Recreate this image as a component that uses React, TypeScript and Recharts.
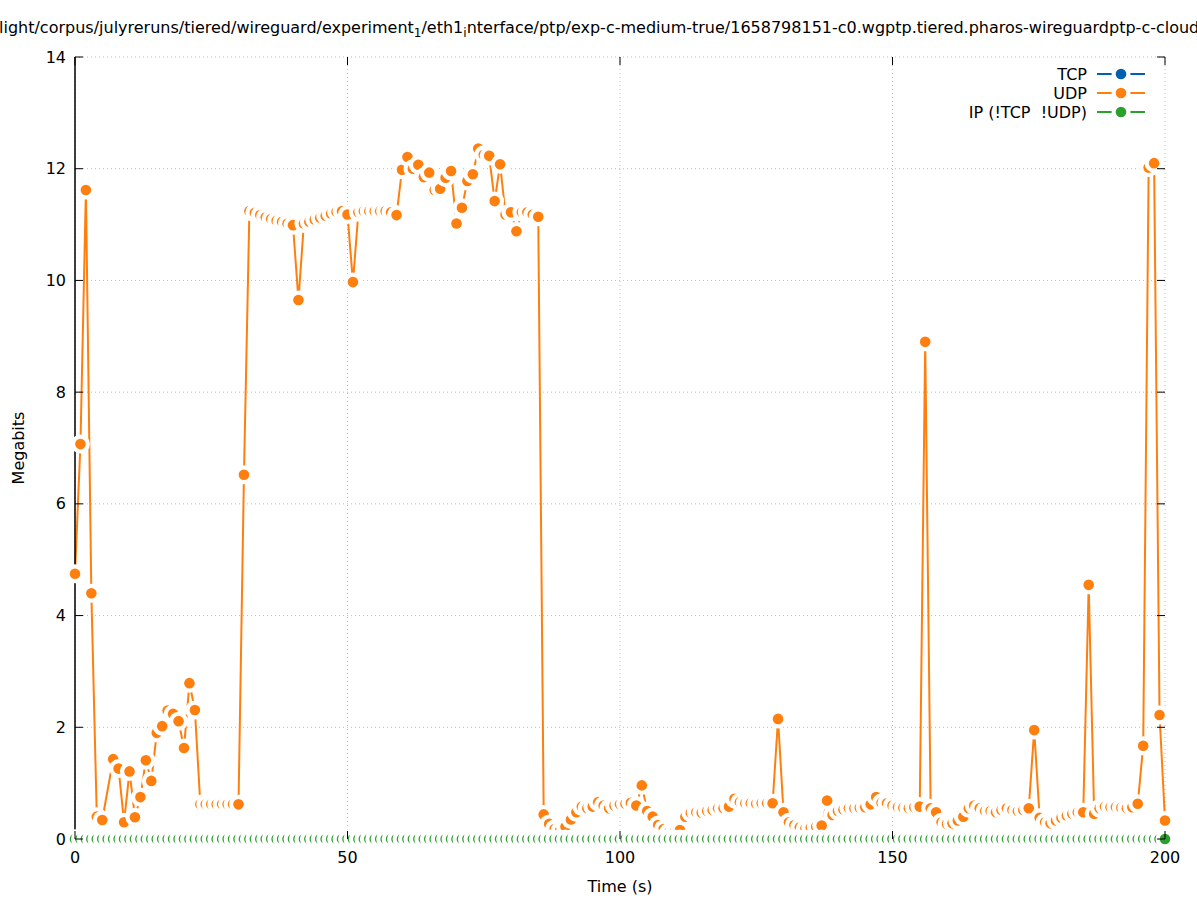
import { CartesianGrid, Line, LineChart, ReferenceLine, XAxis, YAxis } from "recharts";

// UDP throughput per second (Megabits); null where the capture has no sample
const udpMbits: (number | null)[] = [
  4.75, 7.07, 11.62, 4.4, 0.4, 0.34, null, 1.43, 1.26, 0.3,
  1.21, 0.39, 0.75, 1.41, 1.04, 1.9, 2.02, 2.3, 2.24, 2.11,
  1.63, 2.79, 2.31, 0.62, 0.62, 0.62, 0.62, 0.62, 0.62, 0.62,
  0.62, 6.52, 11.24, 11.21, 11.17, 11.13, 11.1, 11.07, 11.05, 11.02,
  10.99, 9.65, 11.02, 11.05, 11.09, 11.12, 11.16, 11.2, 11.23, 11.24,
  11.18, 9.97, 11.22, 11.24, 11.24, 11.24, 11.24, 11.24, 11.22, 11.17,
  11.98, 12.21, 12.0, 12.07, 11.85, 11.93, 11.62, 11.64, 11.84, 11.96,
  11.02, 11.3, 11.78, 11.9, 12.36, 12.25, 12.23, 11.42, 12.08, 11.18,
  11.22, 10.88, 11.22, 11.22, 11.18, 11.14, 0.44, 0.27, 0.18, 0.15,
  0.22, 0.35, 0.48, 0.58, 0.55, 0.58, 0.66, 0.6, 0.55, 0.6,
  0.62, 0.63, 0.65, 0.6, 0.96, 0.5, 0.4, 0.25, 0.18, 0.12,
  0.12, 0.16, 0.4, 0.47, 0.48, 0.47, 0.5, 0.52, 0.55, 0.55,
  0.58, 0.72, 0.66, 0.64, 0.64, 0.63, 0.64, 0.64, 0.64, 2.15,
  0.48, 0.3, 0.25, 0.21, 0.18, 0.2, 0.22, 0.24, 0.69, 0.43,
  0.5, 0.53, 0.55, 0.55, 0.56, 0.57, 0.62, 0.75, 0.65, 0.64,
  0.6, 0.57, 0.56, 0.55, 0.57, 0.58, 8.9, 0.55, 0.48, 0.3,
  0.27, 0.28, 0.33, 0.4, 0.55, 0.6, 0.55, 0.5, 0.5, 0.48,
  0.52, 0.55, 0.52, 0.5, 0.52, 0.55, 1.95, 0.38, 0.3, 0.28,
  0.33, 0.38, 0.42, 0.45, 0.48, 0.48, 4.55, 0.45, 0.55, 0.58,
  0.57, 0.57, 0.56, 0.55, 0.57, 0.63, 1.67, 12.02, 12.1, 2.22,
  0.33,
];

// TCP and other IP traffic stay at zero for the whole run
const tcpMbits: number[] = [
  0, 0, 0, 0, 0, 0, 0, 0, 0, 0, 0, 0, 0, 0, 0, 0, 0, 0, 0, 0,
  0, 0, 0, 0, 0, 0, 0, 0, 0, 0, 0, 0, 0, 0, 0, 0, 0, 0, 0, 0,
  0, 0, 0, 0, 0, 0, 0, 0, 0, 0, 0, 0, 0, 0, 0, 0, 0, 0, 0, 0,
  0, 0, 0, 0, 0, 0, 0, 0, 0, 0, 0, 0, 0, 0, 0, 0, 0, 0, 0, 0,
  0, 0, 0, 0, 0, 0, 0, 0, 0, 0, 0, 0, 0, 0, 0, 0, 0, 0, 0, 0,
  0, 0, 0, 0, 0, 0, 0, 0, 0, 0, 0, 0, 0, 0, 0, 0, 0, 0, 0, 0,
  0, 0, 0, 0, 0, 0, 0, 0, 0, 0, 0, 0, 0, 0, 0, 0, 0, 0, 0, 0,
  0, 0, 0, 0, 0, 0, 0, 0, 0, 0, 0, 0, 0, 0, 0, 0, 0, 0, 0, 0,
  0, 0, 0, 0, 0, 0, 0, 0, 0, 0, 0, 0, 0, 0, 0, 0, 0, 0, 0, 0,
  0, 0, 0, 0, 0, 0, 0, 0, 0, 0, 0, 0, 0, 0, 0, 0, 0, 0, 0, 0,
  0,
];

const ipOtherMbits: number[] = [
  0, 0, 0, 0, 0, 0, 0, 0, 0, 0, 0, 0, 0, 0, 0, 0, 0, 0, 0, 0,
  0, 0, 0, 0, 0, 0, 0, 0, 0, 0, 0, 0, 0, 0, 0, 0, 0, 0, 0, 0,
  0, 0, 0, 0, 0, 0, 0, 0, 0, 0, 0, 0, 0, 0, 0, 0, 0, 0, 0, 0,
  0, 0, 0, 0, 0, 0, 0, 0, 0, 0, 0, 0, 0, 0, 0, 0, 0, 0, 0, 0,
  0, 0, 0, 0, 0, 0, 0, 0, 0, 0, 0, 0, 0, 0, 0, 0, 0, 0, 0, 0,
  0, 0, 0, 0, 0, 0, 0, 0, 0, 0, 0, 0, 0, 0, 0, 0, 0, 0, 0, 0,
  0, 0, 0, 0, 0, 0, 0, 0, 0, 0, 0, 0, 0, 0, 0, 0, 0, 0, 0, 0,
  0, 0, 0, 0, 0, 0, 0, 0, 0, 0, 0, 0, 0, 0, 0, 0, 0, 0, 0, 0,
  0, 0, 0, 0, 0, 0, 0, 0, 0, 0, 0, 0, 0, 0, 0, 0, 0, 0, 0, 0,
  0, 0, 0, 0, 0, 0, 0, 0, 0, 0, 0, 0, 0, 0, 0, 0, 0, 0, 0, 0,
  0,
];

const xTicks = [0, 50, 100, 150, 200];
const yTicks = [0, 2, 4, 6, 8, 10, 12, 14];

const TCP_COLOR = "#0060ad";
const UDP_COLOR = "#ff7f0e";
const IP_COLOR = "#2ca02c";
const FONT = "'DejaVu Sans', sans-serif";

const W = 1197;
const H = 900;
const LEFT = 75;
const RIGHT = 1165;
const TOP = 57;
const BOTTOM = 839;

const rows = udpMbits.map((udp, i) => ({
  t: i,
  tcp: tcpMbits[i],
  udp,
  ip: ipOtherMbits[i],
}));

// gnuplot-style point: filled disc over a white halo that masks what is under it
const haloDot = (color: string) => (props: any) => {
  const { cx, cy, index, value } = props;
  if (value == null || cx == null || cy == null || Number.isNaN(cy)) {
    return <g key={`d-${index}`} />;
  }
  return (
    <g key={`d-${index}`}>
      <circle cx={cx} cy={cy} r={9.5} fill="#fff" />
      <circle cx={cx} cy={cy} r={5.3} fill={color} />
    </g>
  );
};

const YTick = (props: any) => {
  const y = props.payload.coordinate;
  return (
    <g>
      <line x1={LEFT} x2={LEFT + 8} y1={y} y2={y} stroke="#000" />
      <line x1={RIGHT} x2={RIGHT - 8} y1={y} y2={y} stroke="#000" />
      <text x={66} y={y} dy={5.5} textAnchor="end" fontSize={16} fontFamily={FONT} fill="#000">
        {props.payload.value}
      </text>
    </g>
  );
};

const XTick = (props: any) => {
  const x = props.payload.coordinate;
  return (
    <g>
      <line x1={x} x2={x} y1={BOTTOM} y2={BOTTOM - 8} stroke="#000" />
      <line x1={x} x2={x} y1={TOP} y2={TOP + 8} stroke="#000" />
      <text x={x} y={863} textAnchor="middle" fontSize={16} fontFamily={FONT} fill="#000">
        {props.payload.value}
      </text>
    </g>
  );
};

const legendItems = [
  { label: "TCP", color: TCP_COLOR },
  { label: "UDP", color: UDP_COLOR },
  { label: "IP (!TCP  !UDP)", color: IP_COLOR },
];

function Overlay() {
  return (
    <svg
      width={W}
      height={H}
      style={{ position: "absolute", left: 0, top: 0, pointerEvents: "none" }}
      fontFamily={FONT}
    >
      <text x={-1} y={33} fontSize={16} fill="#000" style={{ whiteSpace: "pre" }}>
        light/corpus/julyreruns/tiered/wireguard/experiment
        <tspan fontSize={12} dy={4}>1</tspan>
        <tspan dy={-4}>/eth1</tspan>
        <tspan fontSize={12} dy={4}>i</tspan>
        <tspan dy={-4}>nterface/ptp/exp-c-medium-true/1658798151-c0.wgptp.tiered.pharos-wireguardptp-c-cloudlab</tspan>
      </text>
      <text x={620} y={892} textAnchor="middle" fontSize={16} fill="#000">
        Time (s)
      </text>
      <text
        x={24}
        y={448}
        textAnchor="middle"
        fontSize={16}
        fill="#000"
        transform="rotate(-90 24 448)"
      >
        Megabits
      </text>
      {legendItems.map((item, i) => {
        const y = 74 + i * 19;
        return (
          <g key={item.label}>
            <text x={1087} y={y} dy={5.5} textAnchor="end" fontSize={16} fill="#000" style={{ whiteSpace: "pre" }}>
              {item.label}
            </text>
            <line x1={1097} x2={1145} y1={y} y2={y} stroke={item.color} strokeWidth={2} />
            <circle cx={1121} cy={y} r={9.5} fill="#fff" />
            <circle cx={1121} cy={y} r={5.3} fill={item.color} />
          </g>
        );
      })}
    </svg>
  );
}

export default function App() {
  return (
    <div style={{ position: "absolute", left: 0, top: 0, width: W, height: H, background: "#fff", fontFamily: FONT }}>
      <LineChart width={W} height={H} data={rows} margin={{ top: TOP, right: W - RIGHT, bottom: 21, left: 15 }}>
        <CartesianGrid stroke="#bbbbbb" strokeDasharray="1 3" />
        <XAxis
          dataKey="t"
          type="number"
          domain={[0, 200]}
          ticks={xTicks}
          height={40}
          axisLine={{ stroke: "#000" }}
          tickLine={false}
          tick={<XTick />}
        />
        <YAxis
          type="number"
          domain={[0, 14]}
          ticks={yTicks}
          width={60}
          axisLine={{ stroke: "#000" }}
          tickLine={false}
          tick={<YTick />}
        />
        <Line
          dataKey="tcp"
          name="TCP"
          stroke={TCP_COLOR}
          strokeWidth={2}
          dot={haloDot(TCP_COLOR)}
          activeDot={false}
          isAnimationActive={false}
        />
        <Line
          dataKey="udp"
          name="UDP"
          stroke={UDP_COLOR}
          strokeWidth={2}
          dot={haloDot(UDP_COLOR)}
          activeDot={false}
          connectNulls
          isAnimationActive={false}
        />
        <Line
          dataKey="ip"
          name="IP (!TCP  !UDP)"
          stroke={IP_COLOR}
          strokeWidth={2}
          dot={haloDot(IP_COLOR)}
          activeDot={false}
          isAnimationActive={false}
        />
        <ReferenceLine y={0} stroke="#000" />
        <ReferenceLine x={0} stroke="#000" />
      </LineChart>
      <Overlay />
    </div>
  );
}
